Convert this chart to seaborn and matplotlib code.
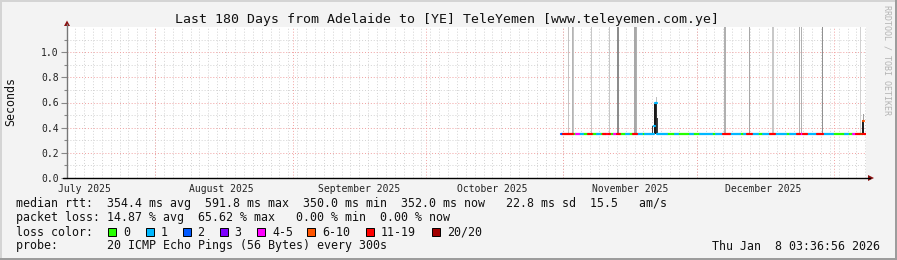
import numpy as np
import pandas as pd
import matplotlib
matplotlib.use("Agg")
import matplotlib.pyplot as plt
import matplotlib.dates as mdates
from matplotlib.patches import Polygon, Rectangle
from matplotlib.lines import Line2D
import seaborn as sns

# ---------------- data ----------------
title = "Last 180 Days from Adelaide to [YE] TeleYemen [www.teleyemen.com.ye]"
end_time_str = "2026-01-08 03:36:56"
base_str = "2025-11-01 00:00"          # day offsets below are relative to this

loss_labels = ["0", "1", "2", "3", "4-5", "6-10", "11-19", "20/20"]
loss_colors = ["#26ff00", "#00b8ff", "#0059ff", "#7e00ff", "#ff00ff", "#ff5500", "#ff0000", "#a10000"]

# median rtt (seconds): each value holds from its day offset until the next one,
# drawn in the colour of its loss class
med_day = [-0.56, -0.11, 2.14, 2.82, 3.49, 4.39, 5.52, 6.42, 7.55, 8.22, 8.90, 9.57, 10.02,
           10.48, 11.38, 12.05, 12.73, 14.08, 14.76, 15.66, 16.56, 17.68, 18.36, 19.49,
           20.39, 20.61, 21.06, 21.29, 23.32, 25.12, 25.80, 28.50, 29.17,
           30.75, 33.45, 34.35, 35.93, 37.51, 39.76, 40.66, 41.34, 42.46, 43.81, 44.94,
           46.52, 47.65, 50.12, 51.03, 52.60, 53.28, 53.95, 54.86, 57.11, 58.46, 60.71,
           63.42, 64.09, 65.22, 65.90, 66.79, 67.24, 67.47, 67.70, 68.15]
med_rtt = [0.350, 0.350, 0.350, 0.350, 0.350, 0.350, 0.350, 0.350, 0.350, 0.350, 0.350, 0.350, 0.350,
           0.350, 0.350, 0.350, 0.350, 0.350, 0.350, 0.350, 0.350, 0.350, 0.350, 0.350,
           0.410, 0.595, 0.350, 0.350, 0.350, 0.350, 0.350, 0.350, 0.350,
           0.350, 0.350, 0.350, 0.350, 0.350, 0.350, 0.350, 0.350, 0.350, 0.350, 0.350,
           0.350, 0.350, 0.350, 0.350, 0.350, 0.350, 0.350, 0.350, 0.350, 0.350, 0.350,
           0.350, 0.350, 0.350, 0.350, 0.350, 0.350, 0.455, 0.350, 0.350]
med_loss = [2, 6, 0, 4, 1, 0, 6, 0, 1, 0, 6, 4, 6,
            0, 4, 6, 0, 1, 0, 6, 1, 0, 1, 1,
            1, 1, 1, 1, 0, 1, 0, 1, 0,
            1, 0, 1, 6, 1, 0, 1, 6, 1, 0, 1,
            6, 1, 0, 1, 6, 4, 6, 1, 6, 1, 0,
            1, 0, 4, 6, 0, 6, 5, 6, 6]

# smoke (spread of individual pings): day offset, low, high, grey shade
smoke_day = [1.01, 1.91, 2.14, 6.20, 10.25, 12.05, 12.28, 15.88, 16.11, 16.33,
             19.94, 20.39, 20.61, 20.84, 20.84, 21.06, 36.16, 36.38, 41.90, 46.97, 47.20,
             53.05, 53.50, 58.23, 66.79, 67.24, 67.47, 67.47]
smoke_lo = [0.35, 0.35, 0.35, 0.35, 0.35, 0.35, 0.35, 0.35, 0.35, 0.35,
            0.35, 0.35, 0.35, 0.35, 0.60, 0.36, 0.35, 0.35, 0.35, 0.35, 0.35,
            0.35, 0.35, 0.35, 0.35, 0.35, 0.35, 0.46]
smoke_hi = [1.30, 1.30, 1.30, 1.30, 1.30, 1.30, 1.30, 1.30, 1.30, 1.30,
            0.41, 0.59, 0.60, 0.60, 0.645, 0.48, 1.30, 1.30, 1.30, 1.30, 1.30,
            1.30, 1.30, 1.30, 1.30, 0.46, 0.46, 0.51]
smoke_shade = ["#c4c4c4", "#b4b4b4", "#c4c4c4", "#c8c8c8", "#c8c8c8", "#8c8c8c", "#8c8c8c",
               "#a8a8a8", "#a8a8a8", "#b0b0b0", "#404040", "#1a1a1a", "#1a1a1a", "#303030",
               "#c0c0c0", "#404040", "#b0b0b0", "#b0b0b0", "#a8a8a8", "#c8c8c8", "#c8c8c8",
               "#b0b0b0", "#b0b0b0", "#909090", "#d0d0d0", "#202020", "#202020", "#a0a0a0"]

y_major = [0.0, 0.2, 0.4, 0.6, 0.8, 1.0]
y_minor = [0.1, 0.3, 0.5, 0.7, 0.9, 1.1]
y_labels = ["0.0", "0.2", "0.4", "0.6", "0.8", "1.0"]
month_starts = ["2025-08-01", "2025-09-01", "2025-10-01", "2025-11-01", "2025-12-01", "2026-01-01"]
month_label_dates = ["2025-07-16", "2025-08-16", "2025-09-16", "2025-10-16", "2025-11-16", "2025-12-16"]
month_labels = ["July 2025", "August 2025", "September 2025", "October 2025",
                "November 2025", "December 2025"]

legend_lines = [
    "median rtt:  354.4 ms avg  591.8 ms max  350.0 ms min  352.0 ms now   22.8 ms sd  15.5   am/s",
    "packet loss: 14.87 % avg  65.62 % max   0.00 % min  0.00 % now",
    "loss color:",
    "probe:       20 ICMP Echo Pings (56 Bytes) every 300s",
]
stamp = "Thu Jan  8 03:36:56 2026"

# ---------------- figure ----------------
W, H = 897, 260
sns.set_theme(style="white")
plt.rcParams["font.family"] = ["DejaVu Sans Mono", "DejaVu Sans"]

end_time = pd.Timestamp(end_time_str)
start_time = end_time - pd.Timedelta(days=180)
base = pd.Timestamp(base_str)
step_days = 180.0 / 799.0


def fx(x):
    return x / W


def fy(y):
    return 1 - y / H


fig = plt.figure(figsize=(W / 100, H / 100), dpi=100, facecolor="#f3f3f3")
ax = fig.add_axes([fx(67), fy(178), fx(866) - fx(67), fy(27) - fy(178)])
ax.set_facecolor("white")

# grid
minor_grid = pd.date_range(start_time.normalize(), end_time, freq="2D")
for d in minor_grid:
    ax.axvline(mdates.date2num(d), color="#d2d2d2", lw=0.7, ls=(0, (1, 2)), zorder=0)
for d in month_starts:
    ax.axvline(mdates.date2num(pd.Timestamp(d)), color="#f0a0a0", lw=0.7, ls=(0, (1, 2)), zorder=0.5)
for v in y_minor:
    ax.axhline(v, color="#d2d2d2", lw=0.7, ls=(0, (1, 2)), zorder=0)
for v in y_major[1:]:
    ax.axhline(v, color="#f0a0a0", lw=0.7, ls=(0, (1, 2)), zorder=0.5)

# smoke
sm_t = mdates.date2num(base + pd.to_timedelta(smoke_day, unit="D"))
ax.bar(sm_t, np.array(smoke_hi) - np.array(smoke_lo), bottom=smoke_lo, width=step_days,
       color=smoke_shade, linewidth=0, align="edge", zorder=1)

# median line coloured by loss (horizontal pieces)
t = mdates.date2num(base + pd.to_timedelta(med_day, unit="D"))
rows = []
for i in range(len(med_day) - 1):
    rows.append(dict(t=t[i], rtt=med_rtt[i], seg=i, loss=med_loss[i]))
    rows.append(dict(t=t[i + 1], rtt=med_rtt[i], seg=i, loss=med_loss[i]))
df = pd.DataFrame(rows)
for k, col in enumerate(loss_colors):
    sub = df[df["loss"] == k]
    if len(sub):
        sns.lineplot(data=sub, x="t", y="rtt", units="seg", estimator=None, sort=False,
                     color=col, linewidth=1.6, ax=ax, zorder=3)

ax.set_xlim(mdates.date2num(start_time), mdates.date2num(end_time))
ax.set_ylim(0, 1.2)
ax.set_xlabel("")
ax.set_ylabel("")

ax.set_xticks(mdates.date2num(pd.to_datetime(month_label_dates)))
ax.set_xticklabels(month_labels, fontsize=7, color="#222222")
ax.tick_params(axis="x", length=0, pad=4)
ax.set_yticks(y_major)
ax.set_yticklabels(y_labels, fontsize=7, color="#222222")
ax.set_yticks(y_minor, minor=True)
ax.tick_params(axis="y", which="major", length=4, width=0.8, color="#888888", pad=2, left=True)
ax.tick_params(axis="y", which="minor", length=2, width=0.8, color="#888888", left=True)
for s in ax.spines.values():
    s.set_visible(False)

# axis lines and arrows
fig.add_artist(Line2D([fx(67), fx(67)], [fy(178), fy(24)], color="#777777", lw=1))
fig.add_artist(Line2D([fx(63), fx(870)], [fy(178), fy(178)], color="black", lw=1))
fig.add_artist(Polygon([[fx(64), fy(26)], [fx(70), fy(26)], [fx(67), fy(20.5)]],
                       closed=True, color="#8b1010", lw=0))
fig.add_artist(Polygon([[fx(868), fy(175)], [fx(868), fy(181)], [fx(874), fy(178)]],
                       closed=True, color="#8b1010", lw=0))

# texts
fig.text(fx(446.5), fy(19), title, ha="center", va="center", fontsize=9.5, color="#111111")
fig.text(fx(11), fy(102), "Seconds", rotation=90, ha="center", va="center", fontsize=8.4,
         color="#111111")
fig.text(fx(887), fy(60), "RRDTOOL / TOBI OETIKER", rotation=270, ha="center", va="center",
         fontsize=6, color="#b4b4b4")
for k, line in enumerate(legend_lines):
    fig.text(fx(16), fy(204 + 14 * k), line, ha="left", va="center", fontsize=8.4,
             color="#111111")
fig.text(fx(880), fy(246), stamp, ha="right", va="center", fontsize=8.4, color="#111111")

box_x = [108, 145.5, 182.5, 219.5, 257, 307, 366, 432]
for bx, lab, col in zip(box_x, loss_labels, loss_colors):
    fig.add_artist(Rectangle((fx(bx), fy(236)), fx(8), 8 / H, facecolor=col,
                             edgecolor="black", lw=0.7))
    fig.text(fx(bx + 15), fy(232), lab, ha="left", va="center", fontsize=8.4, color="#111111")

# frame
fig.add_artist(Rectangle((0, fy(2)), 1, 2 / H, facecolor="#d4d4d4", lw=0))
fig.add_artist(Rectangle((0, 0), fx(2), 1, facecolor="#d4d4d4", lw=0))
fig.add_artist(Rectangle((0, 0), 1, 2 / H, facecolor="#9c9c9c", lw=0))
fig.add_artist(Rectangle((fx(895), 0), fx(2), 1, facecolor="#9c9c9c", lw=0))

fig.savefig("out.png", dpi=100, facecolor=fig.get_facecolor())
